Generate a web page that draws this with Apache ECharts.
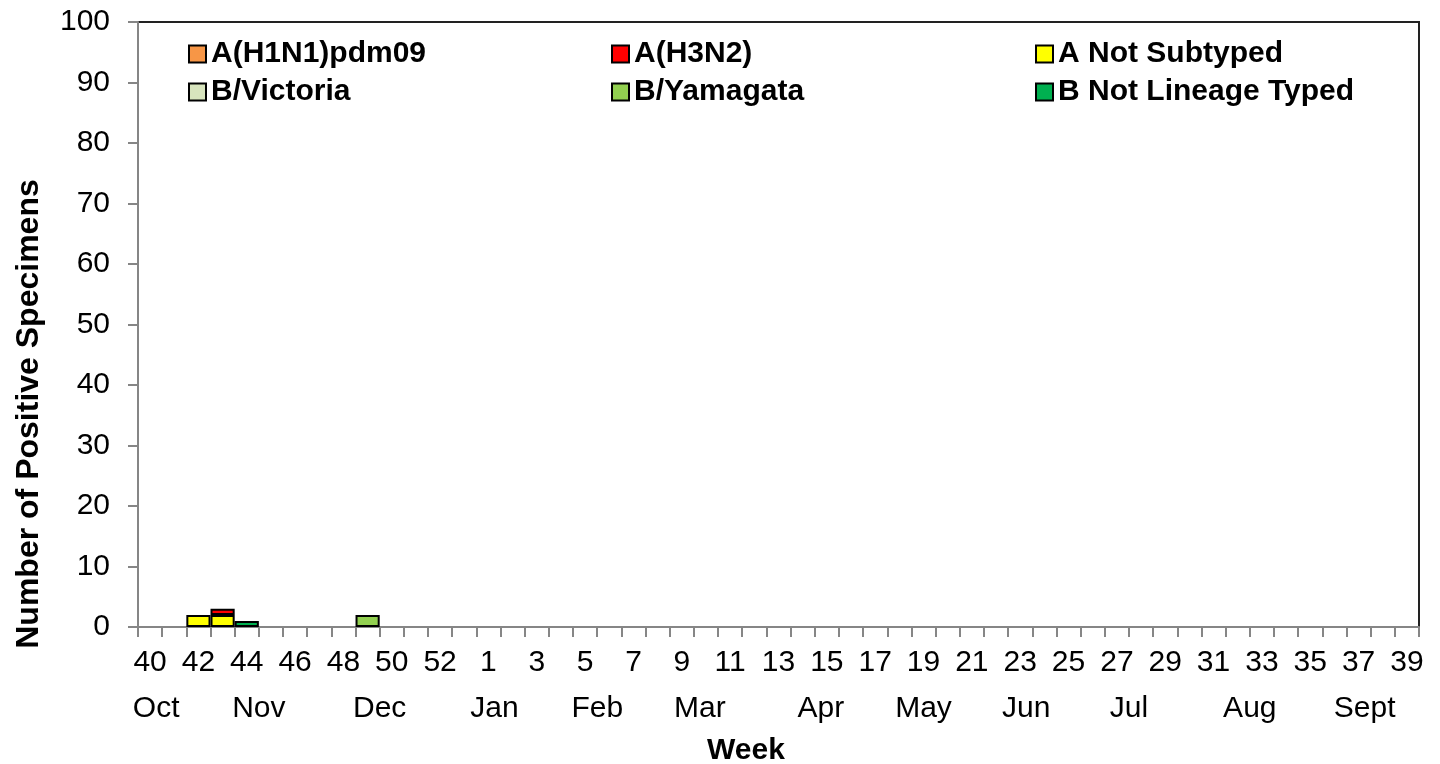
<!DOCTYPE html>
<html>
<head>
<meta charset="utf-8">
<script src="https://cdn.jsdelivr.net/npm/echarts@6/dist/echarts.min.js"></script>
<style>
html,body{margin:0;padding:0;background:#fff;}
#chart{width:1440px;height:764px;}
</style>
</head>
<body>
<div id="chart"></div>
<script>
// ---- data ----
const weeks = ['40','41','42','43','44','45','46','47','48','49','50','51','52','53',
  '1','2','3','4','5','6','7','8','9','10','11','12','13','14','15','16','17','18','19','20',
  '21','22','23','24','25','26','27','28','29','30','31','32','33','34','35','36','37','38','39'];
const months = ['Oct','Nov','Dec','Jan','Feb','Mar','Apr','May','Jun','Jul','Aug','Sept'];
const seriesNames = ['A(H1N1)pdm09','A(H3N2)','A Not Subtyped','B/Victoria','B/Yamagata','B Not Lineage Typed'];
//                40 41 42 43 44 45 46 47 48 49 50 51 52 53 | 1..39
const aH1N1   = [0,0,0,0,0,0,0,0,0,0,0,0,0,0, 0,0,0,0,0,0,0,0,0,0,0,0,0,0,0,0,0,0,0,0,0,0,0,0,0,0,0,0,0,0,0,0,0,0,0,0,0,0,0];
const aH3N2   = [0,0,0,1,0,0,0,0,0,0,0,0,0,0, 0,0,0,0,0,0,0,0,0,0,0,0,0,0,0,0,0,0,0,0,0,0,0,0,0,0,0,0,0,0,0,0,0,0,0,0,0,0,0];
const aNotSub = [0,0,2,2,0,0,0,0,0,0,0,0,0,0, 0,0,0,0,0,0,0,0,0,0,0,0,0,0,0,0,0,0,0,0,0,0,0,0,0,0,0,0,0,0,0,0,0,0,0,0,0,0,0];
const bVic    = [0,0,0,0,0,0,0,0,0,0,0,0,0,0, 0,0,0,0,0,0,0,0,0,0,0,0,0,0,0,0,0,0,0,0,0,0,0,0,0,0,0,0,0,0,0,0,0,0,0,0,0,0,0];
const bYam    = [0,0,0,0,0,0,0,0,0,2,0,0,0,0, 0,0,0,0,0,0,0,0,0,0,0,0,0,0,0,0,0,0,0,0,0,0,0,0,0,0,0,0,0,0,0,0,0,0,0,0,0,0,0];
const bNLT    = [0,0,0,0,1,0,0,0,0,0,0,0,0,0, 0,0,0,0,0,0,0,0,0,0,0,0,0,0,0,0,0,0,0,0,0,0,0,0,0,0,0,0,0,0,0,0,0,0,0,0,0,0,0];

// ---- layout / style ----
const monthLabelAt = [0.75, 5, 10, 14.75, 19, 23.25, 28.25, 32.5, 36.75, 41, 46, 50.75]; // in week-widths from the left edge
const colors = {
  'A(H1N1)pdm09':'#F79646','A(H3N2)':'#FF0000','A Not Subtyped':'#FFFF00',
  'B/Victoria':'#D7E4BD','B/Yamagata':'#92D050','B Not Lineage Typed':'#00B050'
};
const FONT = '"Liberation Sans", Arial, sans-serif';
const valuesByName = {
  'A(H1N1)pdm09':aH1N1,'A(H3N2)':aH3N2,'A Not Subtyped':aNotSub,
  'B/Victoria':bVic,'B/Yamagata':bYam,'B Not Lineage Typed':bNLT
};
// stacking order (bottom first)
const stackOrder = ['A Not Subtyped','A(H1N1)pdm09','A(H3N2)','B/Victoria','B/Yamagata','B Not Lineage Typed'];

const series = stackOrder.map(name => ({
  name, type:'bar', stack:'total', barWidth:'100%',
  xAxisIndex:0, yAxisIndex:0,
  itemStyle:{color:colors[name], borderColor:'#000', borderWidth:2},
  data: valuesByName[name].map(v => v === 0 ? null : v)
}));

const legendBase = {
  orient:'vertical', top:34, itemWidth:17, itemHeight:17, itemGap:8, icon:'rect',
  textStyle:{fontSize:30, fontWeight:'bold', color:'#000', fontFamily:FONT, lineHeight:30},
  selectedMode:false
};
const legends = [
  Object.assign({}, legendBase, {left:183, data:[seriesNames[0], seriesNames[3]]}),
  Object.assign({}, legendBase, {left:606, data:[seriesNames[1], seriesNames[4]]}),
  Object.assign({}, legendBase, {left:1030, data:[seriesNames[2], seriesNames[5]]})
];

const chart = echarts.init(document.getElementById('chart'));
chart.setOption({
  animation:false,
  backgroundColor:'#fff',
  grid:{left:138, right:21, top:22, bottom:137, show:true, borderColor:'#222', borderWidth:2},
  legend: legends,
  xAxis:[
    {
      type:'category', data:weeks, boundaryGap:true, position:'bottom',
      axisLine:{show:true, lineStyle:{color:'#868686', width:2}},
      axisTick:{show:true, interval:0, length:10, lineStyle:{color:'#868686', width:2}},
      axisLabel:{interval:1, fontSize:30, color:'#000', fontFamily:FONT, margin:21},
      splitLine:{show:false}
    },
    {
      type:'value', min:0, max:53, interval:0.25, position:'bottom',
      axisLine:{show:false}, axisTick:{show:false}, splitLine:{show:false},
      axisLabel:{
        fontSize:30, color:'#000', fontFamily:FONT, margin:67,
        showMinLabel:true, showMaxLabel:true,
        formatter: v => {
          const i = monthLabelAt.findIndex(p => Math.abs(p - v) < 1e-6);
          return i >= 0 ? months[i] : '';
        }
      }
    }
  ],
  yAxis:{
    type:'value', min:0, max:100, interval:10,
    axisLine:{show:true, lineStyle:{color:'#868686', width:2}},
    axisTick:{show:true, length:10, lineStyle:{color:'#868686', width:2}},
    axisLabel:{fontSize:30, color:'#000', fontFamily:FONT, margin:28},
    splitLine:{show:false}
  },
  graphic:[
    {type:'text', x:29, y:414, rotation:Math.PI/2,
     style:{text:'Number of Positive Specimens', fontSize:32, fontWeight:'bold', fill:'#000',
            fontFamily:FONT, textAlign:'center', textVerticalAlign:'middle'}},
    {type:'text', x:746, y:751,
     style:{text:'Week', fontSize:30, fontWeight:'bold', fill:'#000',
            fontFamily:FONT, textAlign:'center', textVerticalAlign:'middle'}}
  ],
  series
});
</script>
</body>
</html>
